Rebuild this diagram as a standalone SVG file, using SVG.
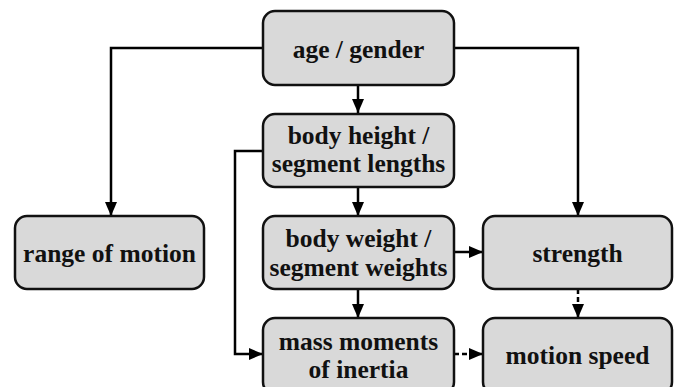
<svg xmlns="http://www.w3.org/2000/svg" width="678" height="387" viewBox="0 0 678 387">
<style>
.box{fill:#d9d9d9;stroke:#111;stroke-width:2.5}
.t{font-family:"Liberation Serif","Times New Roman",serif;font-weight:bold;font-size:25.5px;fill:#111;text-anchor:middle}
.c{fill:none;stroke:#000;stroke-width:2.5}
.d{stroke-dasharray:5,3}
</style>
<defs>
<marker id="ah" markerWidth="14" markerHeight="12" refX="14" refY="6" orient="auto" markerUnits="userSpaceOnUse">
<path d="M0,0 L14,6 L0,12 Z" fill="#000"/>
</marker>
</defs>
<rect width="678" height="387" fill="#fff"/>
<g id="connectors">
<path class="c" d="M263,48 H111 V216" marker-end="url(#ah)"/>
<path class="c" d="M454,48 H578 V216" marker-end="url(#ah)"/>
<path class="c" d="M358,85 V113" marker-end="url(#ah)"/>
<path class="c" d="M358,187 V216" marker-end="url(#ah)"/>
<path class="c" d="M358,289 V318" marker-end="url(#ah)"/>
<path class="c" d="M263,151 H235 V354 H263" marker-end="url(#ah)"/>
<path class="c" d="M454,252 H483" marker-end="url(#ah)"/>
<path class="c d" d="M578,289 V318" marker-end="url(#ah)"/>
<path class="c d" d="M454,354 H483" marker-end="url(#ah)"/>
</g>
<g id="age">
<rect class="box" x="263" y="11" width="191" height="74" rx="12"/>
<text class="t" x="358.5" y="58">age / gender</text>
</g>
<g id="height">
<rect class="box" x="263" y="114" width="191" height="73" rx="12"/>
<text class="t" x="358.5" y="144">body height /</text>
<text class="t" x="358.5" y="172">segment lengths</text>
</g>
<g id="range">
<rect class="box" x="15" y="216" width="189" height="73" rx="12"/>
<text class="t" x="109.5" y="262">range of motion</text>
</g>
<g id="weight">
<rect class="box" x="263" y="216" width="191" height="73" rx="12"/>
<text class="t" x="358.5" y="247">body weight /</text>
<text class="t" x="358.5" y="276">segment weights</text>
</g>
<g id="strength">
<rect class="box" x="483" y="216" width="189" height="73" rx="12"/>
<text class="t" x="577.5" y="262">strength</text>
</g>
<g id="inertia">
<rect class="box" x="263" y="318" width="191" height="76" rx="12"/>
<text class="t" x="358.5" y="350">mass moments</text>
<text class="t" x="358.5" y="378">of inertia</text>
</g>
<g id="speed">
<rect class="box" x="483" y="318" width="189" height="76" rx="12"/>
<text class="t" x="577.5" y="364">motion speed</text>
</g>
</svg>
